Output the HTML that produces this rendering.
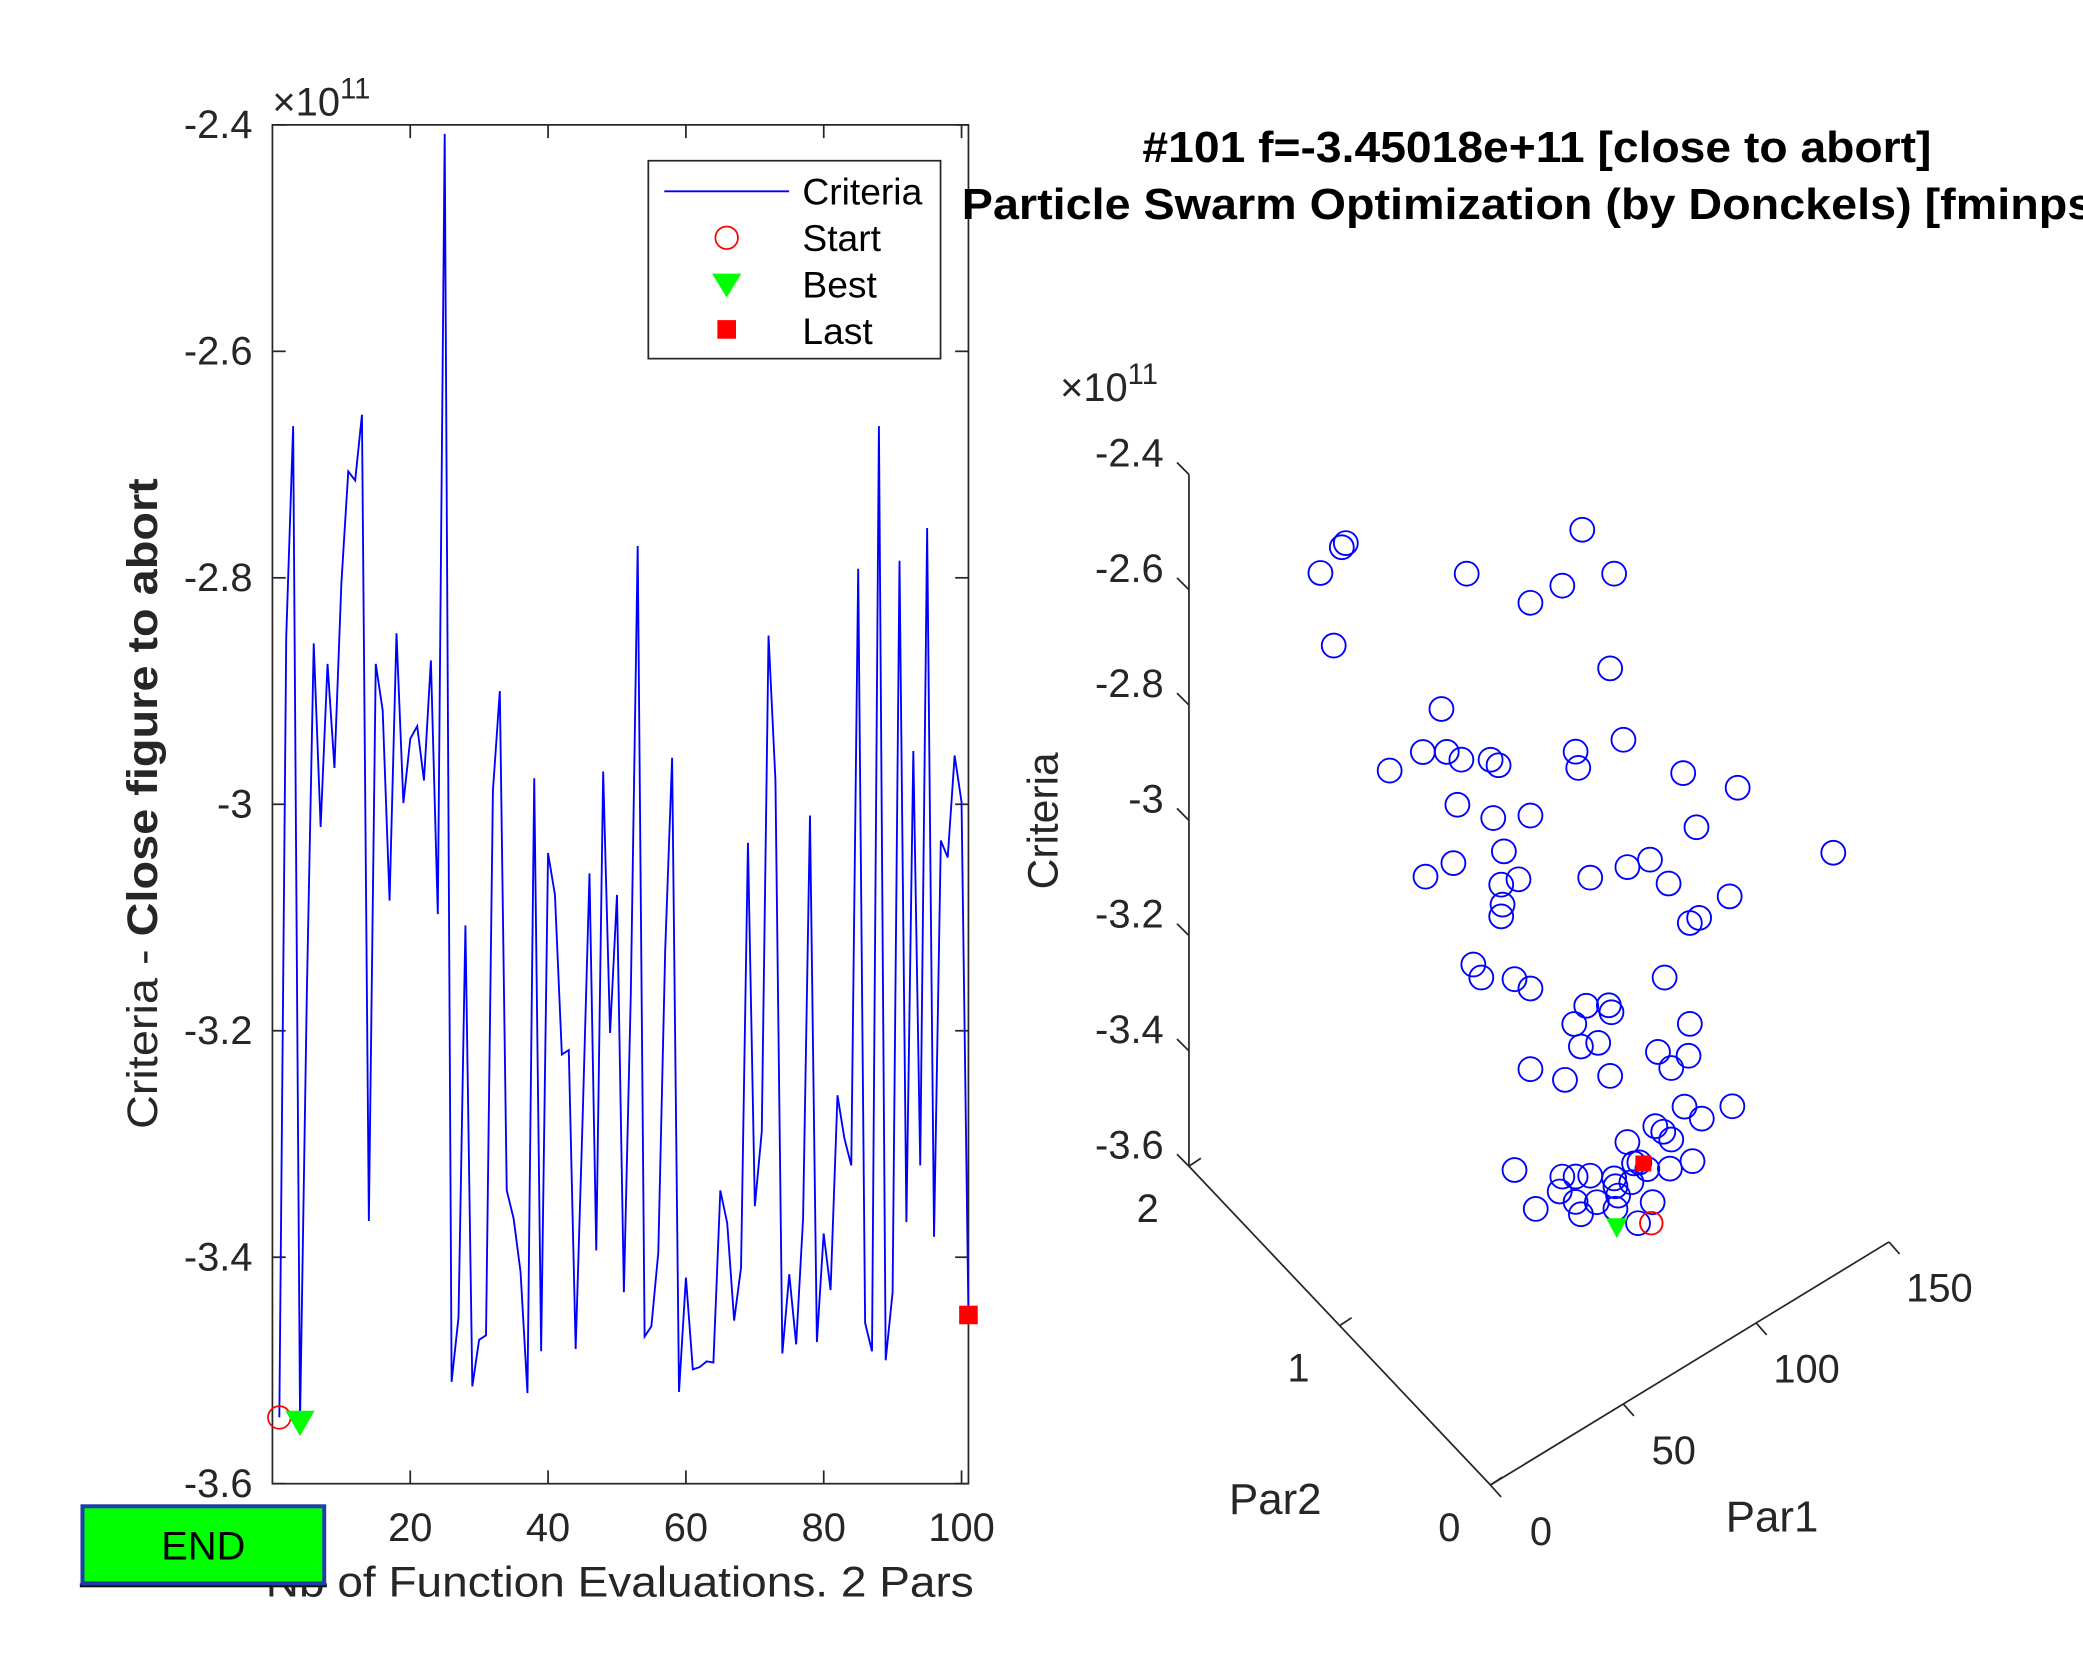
<!DOCTYPE html>
<html><head><meta charset="utf-8"><style>
html,body{margin:0;padding:0;background:#fff;}
svg{display:block;font-family:"Liberation Sans",Arial,sans-serif;}
</style></head><body>
<svg id="fig" width="2083" height="1667" viewBox="0 0 1568 1255" xmlns="http://www.w3.org/2000/svg">
<rect width="1568" height="1255" fill="#fff"/>
<g id="left"></g>
<g id="right"></g>
<g>
<rect x="60" y="1192" width="186" height="3" fill="#111"/>
<rect x="62" y="1134" width="182" height="58" fill="#00ff00" stroke="#1f3fa8" stroke-width="3"/>
<text x="153" y="1174" font-size="30" text-anchor="middle" fill="#000">END</text>
</g>
</svg>
<script>
const evals=[];for(let i=1;i<=101;i++)evals.push(i);
const criteria=[-3.5415,-2.852,-2.666,-3.545,-3.168,-2.858,-3.020,-2.876,-2.968,-2.805,-2.706,-2.714,-2.656,-3.368,-2.876,-2.917,-3.085,-2.849,-2.999,-2.942,-2.931,-2.979,-2.873,-3.097,-2.408,-3.510,-3.453,-3.107,-3.514,-3.473,-3.469,-2.988,-2.900,-3.341,-3.366,-3.413,-3.520,-2.977,-3.483,-3.043,-3.080,-3.221,-3.217,-3.481,-3.279,-3.061,-3.394,-2.971,-3.202,-3.080,-3.431,-3.168,-2.772,-3.470,-3.461,-3.396,-3.129,-2.959,-3.519,-3.418,-3.499,-3.497,-3.492,-3.493,-3.341,-3.370,-3.456,-3.409,-3.034,-3.355,-3.289,-2.851,-2.979,-3.485,-3.415,-3.477,-3.366,-3.010,-3.475,-3.379,-3.429,-3.257,-3.295,-3.319,-2.792,-3.458,-3.483,-2.666,-3.491,-3.431,-2.785,-3.369,-2.953,-3.319,-2.756,-3.382,-3.032,-3.047,-2.957,-2.998,-3.451];
const xTicks=[20,40,60,80,100];
const yTicks=[-2.4,-2.6,-2.8,-3,-3.2,-3.4,-3.6];
const yTickLabels=["-2.4","-2.6","-2.8","-3","-3.2","-3.4","-3.6"];
const startIdx=0, bestIdx=3, lastIdx=100;
// 3D scatter data
const par1=[49.5,54.5,0.8,2.3,47.8,91.3,71.8,83.8,103.3,101.8,38.3,18.8,31.3,40.3,45.8,56.8,59.8,88.8,89.8,106.8,129.3,149.8,44.3,57.8,71.8,134.3,185.8,32.3,42.8,61.8,60.8,67.3,61.3,60.8,94.3,108.3,116.8,123.8,146.8,131.8,135.3,50.3,53.3,65.8,71.8,122.3,92.8,101.3,102.3,88.3,97.3,90.8,131.8,119.8,131.3,124.8,71.8,84.8,101.8,129.8,136.3,147.8,108.3,118.8,121.8,124.8,65.8,83.8,88.8,94.3,103.3,110.8,112.8,115.8,124.3,132.8,73.8,82.8,88.8,90.8,96.8,103.8,104.8,109.8,117.8,103.8,112.3];
const par2=[2,2,1,1,1,1,1,1,1,1,1,1,1,1,1,1,1,1,1,1,1,1,1,1,1,1,1,1,1,1,1,1,1,1,1,1,1,1,1,1,1,1,1,1,1,1,1,1,1,1,1,1,1,1,1,1,1,1,1,1,1,1,1,1,1,1,1,1,1,1,1,1,1,1,1,1,1,1,1,1,1,1,1,1,1,1,1];
const crit3=[-2.71,-2.85,-2.252,-2.249,-2.430,-2.476,-2.548,-2.552,-2.586,-2.746,-2.638,-2.690,-2.693,-2.718,-2.747,-2.778,-2.796,-2.854,-2.885,-2.884,-3.005,-3.088,-2.821,-2.882,-2.917,-3.113,-3.302,-2.912,-2.918,-2.951,-3.006,-3.015,-3.042,-3.061,-3.088,-3.109,-3.120,-3.181,-3.268,-3.272,-3.273,-3.115,-3.146,-3.184,-3.217,-3.340,-3.306,-3.329,-3.344,-3.325,-3.383,-3.371,-3.447,-3.462,-3.501,-3.504,-3.357,-3.412,-3.453,-3.585,-3.624,-3.635,-3.586,-3.588,-3.606,-3.628,-3.515,-3.577,-3.591,-3.605,-3.635,-3.630,-3.634,-3.654,-3.677,-3.688,-3.605,-3.600,-3.635,-3.662,-3.658,-3.650,-3.669,-3.660,-3.717,-3.689,-3.738];
const start3=[117.3,1,-3.752], best3=[104.3,1,-3.723], last3=[114.3,1,-3.640];
const zTicks=[-2.4,-2.6,-2.8,-3,-3.2,-3.4,-3.6];
const zTickLabels=["-2.4","-2.6","-2.8","-3","-3.2","-3.4","-3.6"];
const p1Ticks=[0,50,100,150], p2Ticks=[0,1,2];

const NS="http://www.w3.org/2000/svg";
function mk(parent,tag,attrs,text){const e=document.createElementNS(NS,tag);for(const k in attrs)e.setAttribute(k,attrs[k]);if(text!==undefined)e.textContent=text;parent.appendChild(e);return e;}
const C="#262626";
const FS=30;
// ---- left chart
const L=document.getElementById('left');
const X0=205,X1=729,Y0=94,Y1=1117;
const xs=v=>X0+v/101*(X1-X0);
const ys=v=>Y0+(-2.4-v)/1.2*(Y1-Y0);
let e=mk(L,'rect',{x:X0,y:Y0,width:X1-X0,height:Y1-Y0,fill:'#fff',stroke:C,'stroke-width':1.3});


xTicks.forEach(t=>{
  mk(L,'line',{x1:xs(t),x2:xs(t),y1:Y1,y2:Y1-10,stroke:C,'stroke-width':1.3});
  mk(L,'line',{x1:xs(t),x2:xs(t),y1:Y0,y2:Y0+10,stroke:C,'stroke-width':1.3});
  e=mk(L,'text',{x:xs(t),y:1160,'font-size':FS,'text-anchor':'middle',fill:C},String(t));
  
  
});
yTicks.forEach((t,i)=>{
  mk(L,'line',{x1:X0,x2:X0+10,y1:ys(t),y2:ys(t),stroke:C,'stroke-width':1.3});
  mk(L,'line',{x1:X1,x2:X1-10,y1:ys(t),y2:ys(t),stroke:C,'stroke-width':1.3});
  e=mk(L,'text',{x:190,y:ys(t)+10,'font-size':FS,'text-anchor':'end',fill:C},yTickLabels[i]);
  
  
});
e=mk(L,'text',{x:205,y:87,'font-size':30,fill:C});
e.innerHTML='×10<tspan dy="-13" font-size="22">11</tspan>';


e=mk(L,'text',{x:200,y:1202,'font-size':32,fill:C,textLength:533,lengthAdjust:'spacingAndGlyphs'},'Nb of Function Evaluations. 2 Pars');


e=mk(L,'text',{transform:'translate(118,850) rotate(-90)','font-size':32,fill:C,textLength:490,lengthAdjust:'spacingAndGlyphs'});
e.innerHTML='Criteria -  <tspan font-weight="bold">Close figure to abort</tspan>';


let pts=criteria.map((v,i)=>xs(evals[i]).toFixed(1)+','+ys(v).toFixed(1)).join(' ');
e=mk(L,'polyline',{points:pts,fill:'none',stroke:'#0000ff','stroke-width':1.4});


e=mk(L,'circle',{cx:xs(evals[startIdx]),cy:ys(criteria[startIdx]),r:8.5,fill:'none',stroke:'#ff0000','stroke-width':1.3});


let bx=xs(evals[bestIdx]),by=ys(criteria[bestIdx]);
e=mk(L,'polygon',{points:`${bx-11},${by-8} ${bx+11},${by-8} ${bx},${by+11}`,fill:'#00ff00'});


let lx=xs(evals[lastIdx]),ly=ys(criteria[lastIdx]);
e=mk(L,'rect',{x:lx-7,y:ly-7,width:14,height:14,fill:'#ff0000'});


// legend
const lg=mk(L,'g',{});


mk(lg,'rect',{x:488,y:121,width:220,height:149,fill:'#fff',stroke:C,'stroke-width':1.3});
mk(lg,'line',{x1:500,x2:594,y1:144,y2:144,stroke:'#0000ff','stroke-width':1.4});
mk(lg,'circle',{cx:547,cy:179,r:8.5,fill:'none',stroke:'#ff0000','stroke-width':1.3});
mk(lg,'polygon',{points:'536,206 558,206 547,224',fill:'#00ff00'});
mk(lg,'rect',{x:540,y:241,width:14,height:14,fill:'#ff0000'});
['Criteria','Start','Best','Last'].forEach((s,i)=>{
  e=mk(lg,'text',{x:604,y:154+i*35,'font-size':28,fill:'#000'},s);
  
  
});
// ---- right 3D chart
const R=document.getElementById('right');
const proj=(p1,p2,z)=>[1122+p1*2-p2*113.5, 1118-p1*1.22-p2*120-(z+3.6)*434];
e=mk(R,'text',{x:860,y:122,'font-size':33,'font-weight':'bold',fill:'#000',textLength:594,lengthAdjust:'spacingAndGlyphs'},'#101 f=-3.45018e+11 [close to abort]');


e=mk(R,'text',{x:724,y:165,'font-size':33,'font-weight':'bold',fill:'#000',textLength:885,lengthAdjust:'spacingAndGlyphs'},'Particle Swarm Optimization (by Donckels) [fminpso]');


let a=proj(0,2,-3.6),b=proj(0,2,-2.4);
mk(R,'line',{x1:a[0],y1:a[1],x2:b[0],y2:b[1],stroke:C,'stroke-width':1.3});
zTicks.forEach((t,i)=>{const p=proj(0,2,t);
  mk(R,'line',{x1:p[0],y1:p[1],x2:p[0]-9,y2:p[1]-9,stroke:C,'stroke-width':1.3});
  e=mk(R,'text',{x:876,y:p[1]-6,'font-size':FS,'text-anchor':'end',fill:C},zTickLabels[i]);
  
  
});
e=mk(R,'text',{x:798,y:302,'font-size':30,fill:C});
e.innerHTML='×10<tspan dy="-13" font-size="22">11</tspan>';


e=mk(R,'text',{transform:'translate(796,618) rotate(-90)','font-size':32,'text-anchor':'middle',fill:C},'Criteria');


a=proj(0,0,-3.6);b=proj(0,2,-3.6);
mk(R,'line',{x1:a[0],y1:a[1],x2:b[0],y2:b[1],stroke:C,'stroke-width':1.3});
p2Ticks.forEach(t=>{const p=proj(0,t,-3.6);
  mk(R,'line',{x1:p[0],y1:p[1],x2:p[0]+9,y2:p[1]-6,stroke:C,'stroke-width':1.3});
  e=mk(R,'text',{x:p[0]-31,y:p[1]+42,'font-size':FS,'text-anchor':'middle',fill:C},String(t));
  
  
});
a=proj(0,0,-3.6);b=proj(150,0,-3.6);
mk(R,'line',{x1:a[0],y1:a[1],x2:b[0],y2:b[1],stroke:C,'stroke-width':1.3});
p1Ticks.forEach(t=>{const p=proj(t,0,-3.6);
  mk(R,'line',{x1:p[0],y1:p[1],x2:p[0]+8,y2:p[1]+9,stroke:C,'stroke-width':1.3});
  e=mk(R,'text',{x:p[0]+38,y:p[1]+45,'font-size':FS,'text-anchor':'middle',fill:C},String(t));
  
  
});
e=mk(R,'text',{x:960,y:1140,'font-size':33,'text-anchor':'middle',fill:C},'Par2');


e=mk(R,'text',{x:1334,y:1153,'font-size':33,'text-anchor':'middle',fill:C},'Par1');


par1.forEach((v,i)=>{const p=proj(v,par2[i],crit3[i]);
  e=mk(R,'circle',{cx:p[0],cy:p[1],r:9,fill:'none',stroke:'#0000ff','stroke-width':1.4});
  
  
});
let s=proj(...start3);
e=mk(R,'circle',{cx:s[0],cy:s[1],r:8.5,fill:'none',stroke:'#ff0000','stroke-width':1.4});


s=proj(...best3);
e=mk(R,'polygon',{points:`${s[0]-8},${s[1]-7} ${s[0]+8},${s[1]-7} ${s[0]},${s[1]+8}`,fill:'#00ff00'});


s=proj(...last3);
e=mk(R,'rect',{x:s[0]-6,y:s[1]-6,width:12,height:12,fill:'#ff0000'});


</script>
</body></html>
